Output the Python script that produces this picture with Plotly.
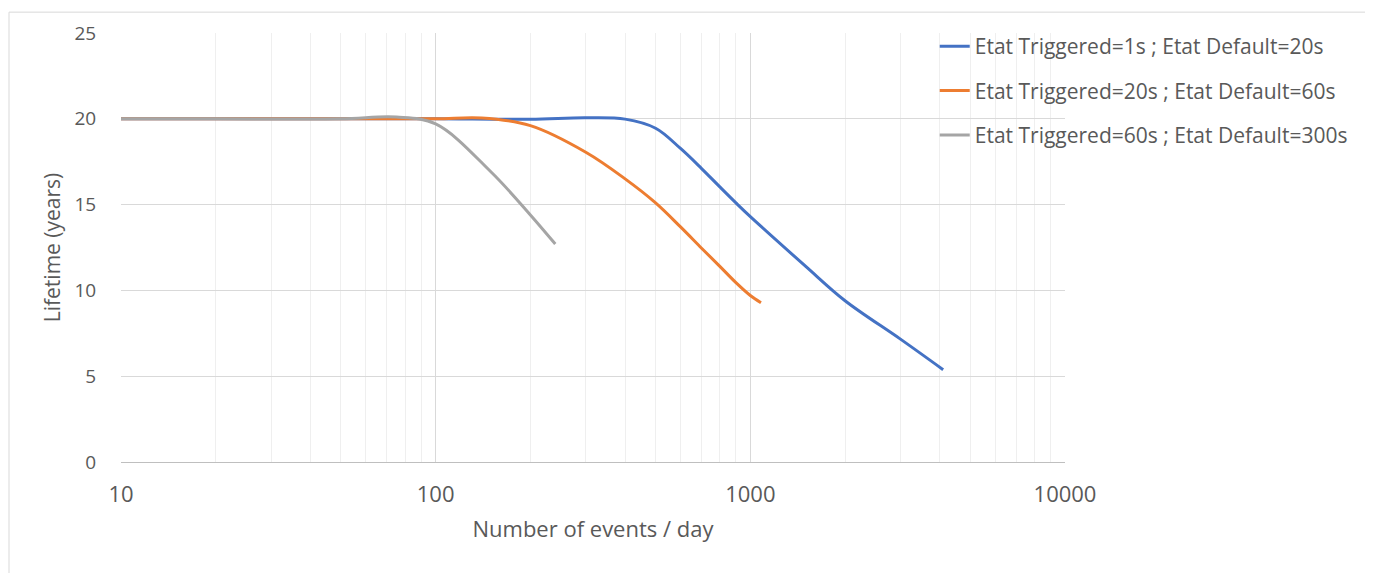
import plotly.graph_objects as go

# Data
blue_x = [10, 20, 50, 100, 200, 300, 400, 500, 600, 700, 800, 900, 1000, 1500, 2000, 3000, 4100]
blue_y = [20, 20, 20, 20, 19.98, 20.06, 19.98, 19.45, 18.27, 17.1, 16.03, 15.1, 14.3, 11.4, 9.4, 7.16, 5.38]

orange_x = [10, 20, 50, 100, 140, 200, 300, 400, 500, 600, 700, 800, 900, 1000, 1081]
orange_y = [20, 20, 20, 20, 20.05, 19.6, 18.05, 16.5, 15.1, 13.7, 12.46, 11.4, 10.45, 9.7, 9.28]

gray_x = [10, 20, 50, 75, 100, 150, 200, 240]
gray_y = [20, 20, 20, 20.1, 19.7, 16.9, 14.4, 12.7]

names = [
    "Etat Triggered=1s ; Etat Default=20s",
    "Etat Triggered=20s ; Etat Default=60s",
    "Etat Triggered=60s ; Etat Default=300s",
]
colors = ["#4472C4", "#ED7D31", "#A5A5A5"]

x_ticks = [10, 100, 1000, 10000]
y_ticks = [0, 5, 10, 15, 20, 25]
minor_x = [m * d for d in (10, 100, 1000) for m in range(2, 10)]

FONT = "Open Sans"
TXT = "#595959"

fig = go.Figure()
for i, (xs, ys) in enumerate([(blue_x, blue_y), (orange_x, orange_y), (gray_x, gray_y)]):
    fig.add_trace(go.Scatter(
        x=xs, y=ys, mode="lines", name=names[i], legendgroup=f"g{i}",
        line=dict(color=colors[i], width=3, shape="spline", smoothing=1.0),
    ))

fig.update_layout(
    width=1373, height=573,
    margin=dict(l=113, r=316, t=22, b=119),
    paper_bgcolor="white", plot_bgcolor="white",
    font=dict(family=FONT, size=19, color=TXT),
    showlegend=True,
    legend=dict(
        x=0.862, y=1.016, xanchor="left", yanchor="top",
        bgcolor="rgba(0,0,0,0)", font=dict(size=21, color=TXT),
        traceorder="grouped", tracegroupgap=14,
    ),
    xaxis=dict(
        type="log", range=[1, 4],
        tickvals=x_ticks, ticktext=[str(v) for v in x_ticks],
        showgrid=True, gridcolor="#D9D9D9", gridwidth=1,
        minor=dict(tickvals=minor_x, showgrid=True, gridcolor="#EFEFEF", gridwidth=1),
        showline=True, linecolor="#BFBFBF", linewidth=1,
        ticks="outside", ticklen=13, tickcolor="rgba(0,0,0,0)",
        tickfont=dict(size=22, color=TXT),
        title=dict(text="Number of events / day", font=dict(size=22, color=TXT), standoff=14),
        zeroline=False,
    ),
    yaxis=dict(
        range=[0, 25], tickvals=y_ticks,
        showgrid=True, gridcolor="#D9D9D9", gridwidth=1,
        showline=False, zeroline=False,
        ticks="outside", ticklen=20, tickcolor="rgba(0,0,0,0)",
        tickfont=dict(size=19, color=TXT),
        title=dict(text="Lifetime (years)", font=dict(size=21, color=TXT), standoff=8),
    ),
    shapes=[dict(
        type="rect", xref="paper", yref="paper",
        x0=(1 - 113) / 944, x1=(1359 - 113) / 944,
        y0=-0.4, y1=(454 - 1) / 432,
        line=dict(color="#D9D9D9", width=1), fillcolor="rgba(0,0,0,0)", layer="below",
    )],
)

fig.write_html("out.html")
